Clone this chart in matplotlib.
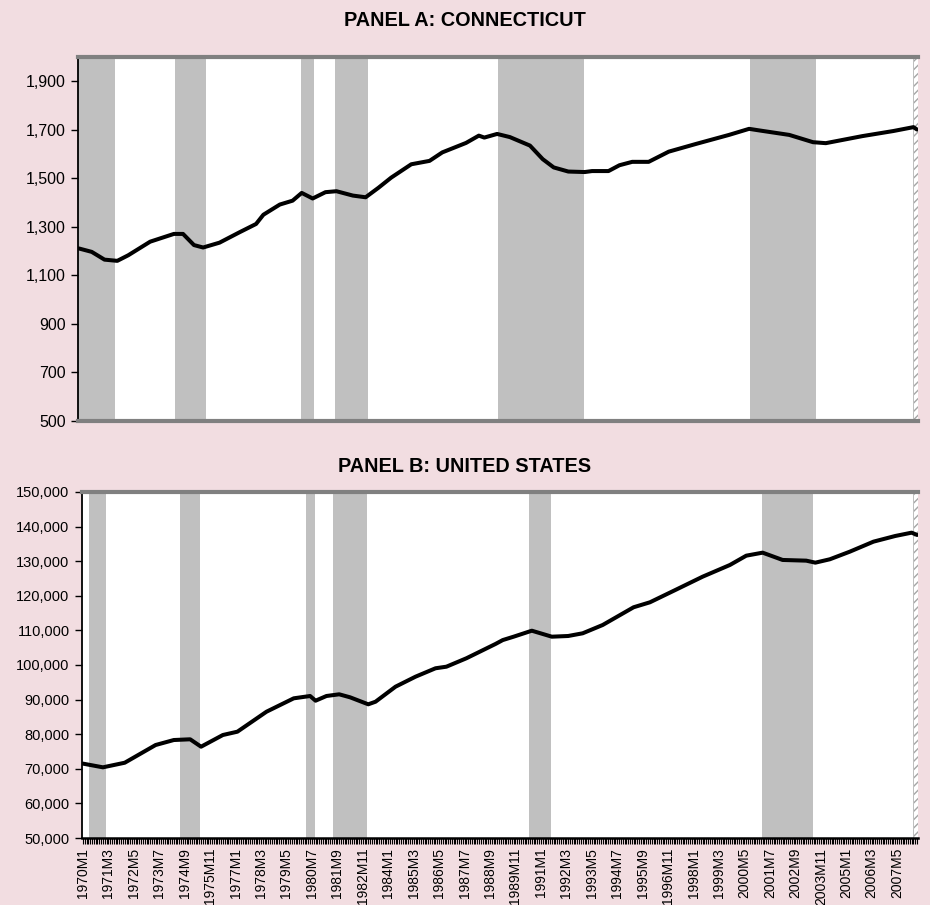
import numpy as np
import matplotlib
matplotlib.use('Agg')
import matplotlib.pyplot as plt
from matplotlib.ticker import FuncFormatter, MultipleLocator

plt.rcParams['font.family'] = ['Liberation Sans', 'DejaVu Sans']
plt.rcParams['hatch.color'] = '#A6A6A6'
plt.rcParams['hatch.linewidth'] = 1.0

N_MONTHS = 460  # 1970M1 .. 2008M4

# Connecticut nonfarm employment (thousands)
ct_months = [0, 7, 14, 21, 27, 39, 52, 57, 63, 68, 77, 88, 97, 101, 110, 117,
             122, 128, 135, 141, 150, 157, 164, 171, 182, 192, 199, 206, 212,
             219, 222, 229, 236, 247, 254, 260, 268, 277, 281, 290, 296, 303,
             312, 323, 338, 356, 367, 373, 389, 402, 409, 429, 446, 457, 459]
ct_values = [1211, 1197, 1165, 1160, 1183, 1239, 1271, 1271, 1225, 1215, 1235,
             1278, 1312, 1350, 1392, 1408, 1440, 1417, 1443, 1447, 1429, 1422,
             1461, 1503, 1558, 1572, 1607, 1628, 1646, 1676, 1668, 1683, 1670,
             1635, 1579, 1545, 1528, 1526, 1530, 1530, 1554, 1568, 1568, 1610,
             1642, 1679, 1704, 1697, 1679, 1649, 1645, 1674, 1695, 1711, 1701]

# United States nonfarm employment (thousands)
us_months = [0, 11, 23, 40, 50, 59, 65, 77, 85, 101, 116, 125, 128, 134, 141,
             147, 157, 161, 172, 183, 194, 200, 211, 227, 231, 237, 247, 258,
             267, 275, 286, 303, 312, 326, 341, 356, 365, 374, 385, 398, 403,
             411, 422, 435, 447, 456, 459]
us_values = [71500, 70430, 71760, 76880, 78320, 78530, 76390, 79770, 80730,
             86500, 90370, 91040, 89680, 91040, 91530, 90660, 88640, 89390,
             93730, 96620, 99050, 99510, 101940, 106070, 107200, 108180,
             109910, 108180, 108380, 109160, 111560, 116680, 118120, 121680,
             125520, 128900, 131590, 132460, 130350, 130150, 129570, 130550,
             132750, 135640, 137280, 138240, 137570]

ct_recessions = [("1970M1", "1971M8"), ("1974M6", "1975M10"), ("1980M3", "1980M9"),
                 ("1981M10", "1983M3"), ("1989M3", "1993M1"), ("2000M9", "2003M8")]
us_recessions = [("1970M5", "1971M1"), ("1974M7", "1975M5"), ("1980M4", "1980M8"),
                 ("1981M7", "1983M1"), ("1990M7", "1991M6"), ("2001M3", "2003M6")]
last_solid = ("2008M2", "2008M2")
last_hatched = ("2008M3", "2008M4")


def month_index(label):
    year, month = label.split('M')
    return (int(year) - 1970) * 12 + int(month) - 1


def month_label(i):
    return '%dM%d' % (1970 + i // 12, i % 12 + 1)


def shade(ax, periods):
    for start, end in periods:
        ax.axvspan(month_index(start) - 0.5, month_index(end) + 0.5,
                   color='#C0C0C0', lw=0, zorder=1)
    ax.axvspan(month_index(last_solid[0]) - 0.5, month_index(last_solid[1]) + 0.5,
               color='#C0C0C0', lw=0, zorder=1)
    ax.axvspan(month_index(last_hatched[0]) - 0.5, month_index(last_hatched[1]) + 0.5,
               facecolor='white', edgecolor='#A6A6A6', hatch='////', lw=0, zorder=1)


def style_axes(ax):
    ax.set_facecolor('white')
    ax.set_xlim(-0.5, N_MONTHS - 0.5)
    ax.spines['top'].set_color('#808080')
    ax.spines['top'].set_linewidth(3)
    ax.spines['right'].set_visible(False)
    ax.spines['left'].set_color('black')
    ax.spines['left'].set_linewidth(1.3)
    ax.tick_params(axis='y', direction='out', length=5, width=1, color='black', pad=4)
    ax.yaxis.set_major_formatter(FuncFormatter(lambda v, p: '{:,.0f}'.format(v)))


bg = '#F2DDE1'
fig = plt.figure(figsize=(9.3, 9.05), dpi=100, facecolor=bg)

ax1 = fig.add_axes([0.0839, 0.5348, 0.9032, 0.4022])
style_axes(ax1)
shade(ax1, ct_recessions)
ax1.plot(ct_months, ct_values, color='black', lw=2.9, zorder=3,
         solid_joinstyle='round', solid_capstyle='round')
ax1.set_ylim(500, 2000)
ax1.set_yticks(np.arange(500, 2000, 200))
ax1.tick_params(axis='y', labelsize=11.5)
ax1.set_xticks([])
ax1.spines['bottom'].set_color('#808080')
ax1.spines['bottom'].set_linewidth(3)

ax2 = fig.add_axes([0.0882, 0.0740, 0.8989, 0.3824])
style_axes(ax2)
shade(ax2, us_recessions)
ax2.plot(us_months, us_values, color='black', lw=2.9, zorder=3,
         solid_joinstyle='round', solid_capstyle='round')
ax2.set_ylim(50000, 150000)
ax2.set_yticks(np.arange(50000, 150001, 10000))
ax2.tick_params(axis='y', labelsize=10.5)
ax2.spines['bottom'].set_color('black')
ax2.spines['bottom'].set_linewidth(1.8)
tick_pos = list(range(0, N_MONTHS - 8, 14))
ax2.set_xticks(tick_pos)
ax2.set_xticklabels([month_label(i) for i in tick_pos], rotation=90, fontsize=10)
ax2.xaxis.set_minor_locator(MultipleLocator(1))
ax2.tick_params(axis='x', which='both', direction='out', length=4, width=0.8,
                color='black', pad=3)

fig.text(0.5, 0.977, 'PANEL A: CONNECTICUT', ha='center', va='center',
         fontsize=14.3, fontweight='bold')
fig.text(0.5, 0.485, 'PANEL B: UNITED STATES', ha='center', va='center',
         fontsize=14.3, fontweight='bold')

fig.savefig('out.png', dpi=100, facecolor=bg)
